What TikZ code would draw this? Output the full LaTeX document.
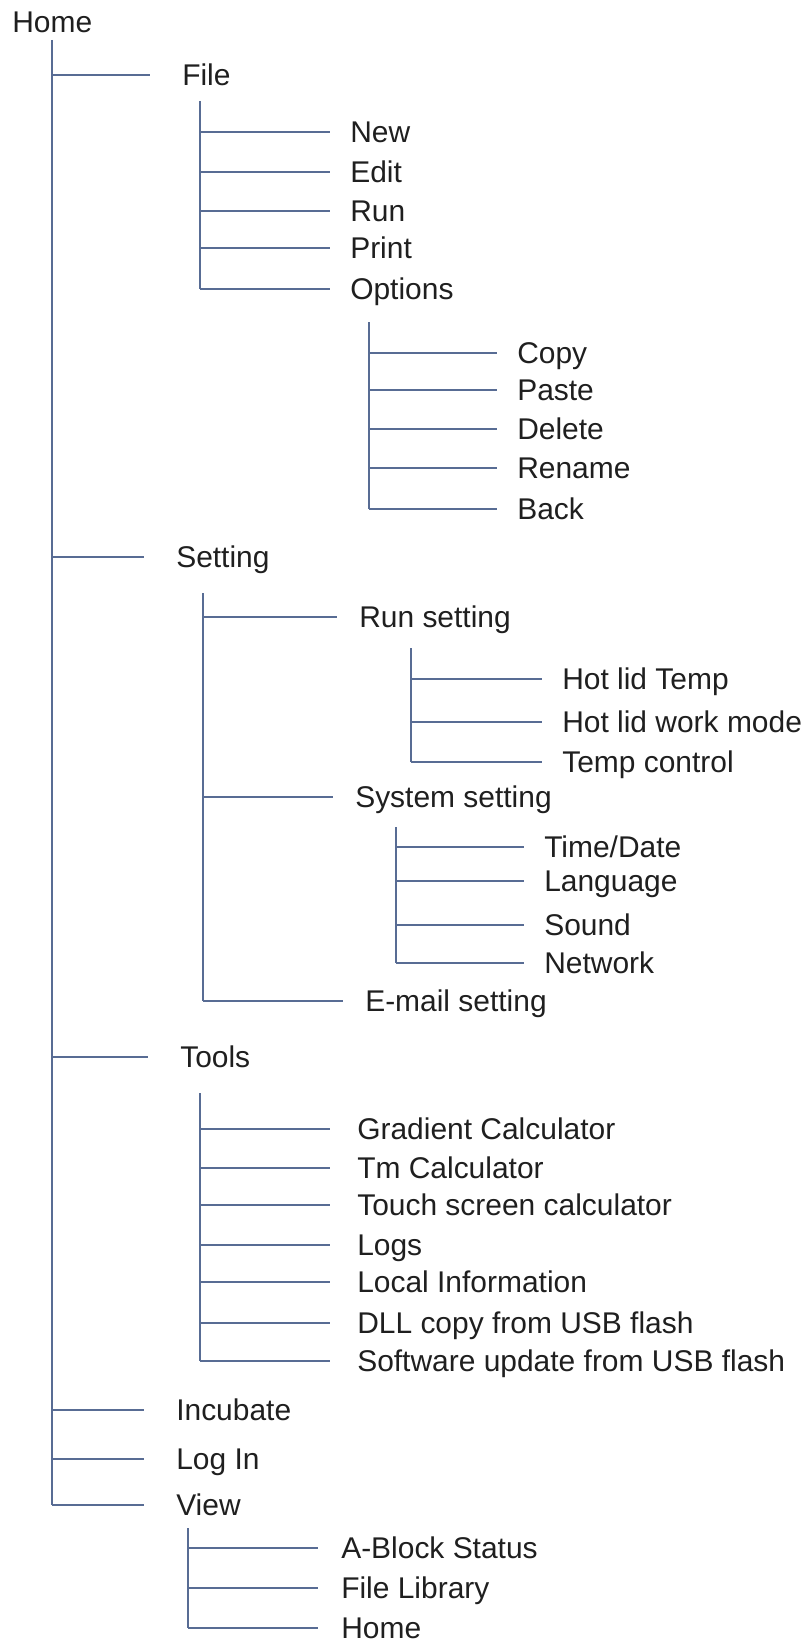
\documentclass[tikz,border=0pt]{standalone}
\usepackage{fontspec}
\setmainfont{Liberation Sans}

\definecolor{linie}{RGB}{88,108,148}

\tikzset{
  eintrag/.style={anchor=west, inner sep=0pt, text height=0.537cm, text depth=0pt,
    font=\fontsize{21.3}{25}\selectfont, text=black!88},
  stamm/.style={draw=linie, line width=1.2pt},
  ast/.style={stamm, shorten >=0.5cm},
}

\begin{document}
\begin{tikzpicture}[x=0.025cm, y=-0.025cm]
    \useasboundingbox (0,0) rectangle (805,1643);

    % Wurzel
    \node[eintrag] (home) at (12,22) {Home};
    \coordinate (hauptT) at (52,40);

    % Erste Ebene
    \node[eintrag] (file) at (182,75) {File};
    \node[eintrag] (setting) at (176,557) {Setting};
    \node[eintrag] (tools) at (180,1057) {Tools};
    \node[eintrag] (incubate) at (176,1410) {Incubate};
    \node[eintrag] (login) at (176,1459) {Log In};
    \node[eintrag] (view) at (176,1505) {View};
    \foreach \n in {file,setting,tools,incubate,login,view}
        \draw[ast, shorten >=0.8cm] (hauptT |- \n.west) -- (\n.west);
    \draw[stamm] (hauptT) -- (hauptT |- view.west);

    % File
    \coordinate (fileT) at (200,101);
    \foreach \n/\t/\y in {new/New/132, edit/Edit/172, run/Run/211, print/Print/248, options/Options/289} {
        \node[eintrag] (\n) at (350,\y) {\t};
        \draw[ast] (fileT |- \n.west) -- (\n.west);
    }
    \draw[stamm] (fileT) -- (fileT |- options.west);

    % Options
    \coordinate (optT) at (369,322);
    \foreach \n/\t/\y in {copy/Copy/353, paste/Paste/390, delete/Delete/429, rename/Rename/468, back/Back/509} {
        \node[eintrag] (\n) at (517,\y) {\t};
        \draw[ast] (optT |- \n.west) -- (\n.west);
    }
    \draw[stamm] (optT) -- (optT |- back.west);

    % Setting
    \coordinate (setT) at (203,593);
    \node[eintrag] (runset) at (359,617) {Run setting};
    \node[eintrag] (sysset) at (355,797) {System setting};
    \node[eintrag] (mailset) at (365,1001) {E-mail setting};
    \foreach \n in {runset,sysset,mailset}
        \draw[ast, shorten >=0.55cm] (setT |- \n.west) -- (\n.west);
    \draw[stamm] (setT) -- (setT |- mailset.west);

    % Run setting
    \coordinate (runT) at (411,648);
    \foreach \n/\t/\y in {lidtemp/Hot lid Temp/679, lidmode/Hot lid work mode/722, tempctl/Temp control/762} {
        \node[eintrag] (\n) at (562,\y) {\t};
        \draw[ast] (runT |- \n.west) -- (\n.west);
    }
    \draw[stamm] (runT) -- (runT |- tempctl.west);

    % System setting
    \coordinate (sysT) at (396,827);
    \foreach \n/\t/\y in {zeit/{Time/Date}/847, sprache/Language/881, ton/Sound/925, netz/Network/963} {
        \node[eintrag] (\n) at (544,\y) {\t};
        \draw[ast] (sysT |- \n.west) -- (\n.west);
    }
    \draw[stamm] (sysT) -- (sysT |- netz.west);

    % Tools
    \coordinate (toolT) at (200,1093);
    \foreach \n/\t/\y in {grad/Gradient Calculator/1129, tm/Tm Calculator/1168, touch/Touch screen calculator/1205,
                          logs/Logs/1245, local/Local Information/1282, dll/DLL copy from USB flash/1323,
                          soft/Software update from USB flash/1361} {
        \node[eintrag] (\n) at (357,\y) {\t};
        \draw[ast, shorten >=0.68cm] (toolT |- \n.west) -- (\n.west);
    }
    \draw[stamm] (toolT) -- (toolT |- soft.west);

    % View
    \coordinate (viewT) at (188,1528);
    \foreach \n/\t/\y in {ablock/A-Block Status/1548, filelib/File Library/1588, home2/Home/1628} {
        \node[eintrag] (\n) at (341,\y) {\t};
        \draw[ast, shorten >=0.58cm] (viewT |- \n.west) -- (\n.west);
    }
    \draw[stamm] (viewT) -- (viewT |- home2.west);
\end{tikzpicture}
\end{document}
